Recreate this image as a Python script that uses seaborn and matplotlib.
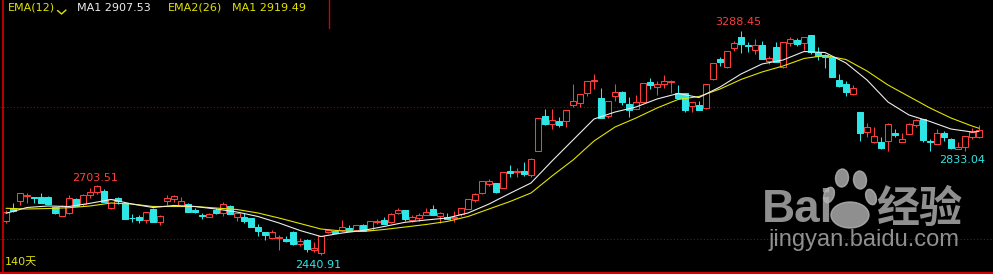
import numpy as np
import pandas as pd
import matplotlib
matplotlib.use("Agg")
import matplotlib.pyplot as plt
import seaborn as sns
from matplotlib.patches import Ellipse

# ---------------- data ----------------
days = list(range(140))
opens = [2569, 2619, 2645, 2664, 2658, 2660, 2658, 2621, 2588, 2597,
         2650, 2633, 2665, 2678, 2682, 2616, 2654, 2636, 2580, 2584,
         2572, 2614, 2564, 2645, 2650, 2626, 2631, 2610, 2589, 2584,
         2610, 2600, 2625, 2584, 2584, 2578, 2544, 2526, 2505, 2505,
         2499, 2528, 2481, 2496, 2458, 2446, 2525, 2530, 2534, 2542,
         2534, 2554, 2534, 2565, 2572, 2565, 2597, 2610, 2572, 2578,
         2591, 2614, 2587, 2584, 2581, 2595, 2612, 2648, 2673, 2708,
         2711, 2694, 2758, 2754, 2759, 2742, 2834, 2966, 2934, 2948,
         2948, 3009, 3014, 3054, 3097, 3034, 2967, 3043, 3058, 3012,
         2994, 3020, 3096, 3077, 3087, 3095, 3052, 3052, 3005, 3008,
         2995, 3105, 3181, 3153, 3225, 3264, 3234, 3216, 3235, 3175,
         3227, 3153, 3241, 3254, 3241, 3273, 3207, 3197, 3188, 3102,
         3087, 3048, 2981, 2906, 2868, 2868, 2872, 2902, 2868, 2897,
         2930, 2953, 2873, 2860, 2900, 2879, 2841, 2847, 2885, 2888]
highs = [2608, 2635, 2674, 2674, 2660, 2673, 2663, 2622, 2627, 2667,
         2657, 2669, 2692, 2703.51, 2689, 2653, 2658, 2638, 2595, 2591,
         2604, 2619, 2591, 2667, 2665, 2658, 2635, 2616, 2600, 2597,
         2616, 2641, 2629, 2598, 2598, 2580, 2556, 2528, 2534, 2515,
         2512, 2531, 2503, 2500, 2487, 2513, 2538, 2532, 2572, 2553,
         2554, 2557, 2569, 2575, 2584, 2600, 2616, 2611, 2591, 2597,
         2616, 2629, 2603, 2597, 2606, 2617, 2652, 2675, 2721, 2727,
         2712, 2754, 2780, 2770, 2790, 2805, 2958, 2992, 2992, 2964,
         2990, 3087, 3051, 3100, 3125, 3072, 3024, 3087, 3061, 3039,
         3045, 3092, 3110, 3098, 3121, 3102, 3083, 3053, 3019, 3023,
         3087, 3167, 3190, 3213, 3250, 3288.45, 3247, 3258, 3250, 3194,
         3247, 3246, 3266, 3262, 3265, 3274, 3226, 3201, 3189, 3125,
         3100, 3083, 2982, 2938, 2923, 2885, 2938, 2916, 2903, 2941,
         2953, 2955, 2879, 2916, 2909, 2881, 2868, 2892, 2919, 2932]
lows = [2562, 2604, 2629, 2635, 2635, 2636, 2631, 2595, 2587, 2595,
        2625, 2625, 2654, 2670, 2640, 2615, 2631, 2574, 2565, 2562,
        2559, 2564, 2553, 2629, 2641, 2625, 2601, 2597, 2575, 2583,
        2593, 2587, 2593, 2569, 2559, 2545, 2512, 2496, 2499, 2458,
        2487, 2479, 2475, 2452, 2452, 2440.91, 2522, 2523, 2532, 2529,
        2532, 2529, 2533, 2557, 2556, 2559, 2596, 2569, 2565, 2569,
        2590, 2590, 2559, 2574, 2565, 2588, 2612, 2641, 2672, 2702,
        2675, 2693, 2734, 2736, 2739, 2734, 2833, 2932, 2917, 2925,
        2925, 3001, 3001, 3043, 3068, 2958, 2957, 3024, 3008, 2963,
        2992, 3019, 3068, 3045, 3072, 3052, 3034, 2982, 2982, 2987,
        2994, 3103, 3156, 3147, 3212, 3203, 3207, 3200, 3181, 3162,
        3169, 3147, 3232, 3232, 3216, 3200, 3178, 3149, 3114, 3077,
        3043, 3047, 2872, 2885, 2862, 2840, 2834, 2885, 2867, 2896,
        2923, 2868, 2834, 2859, 2872, 2841, 2840, 2833.04, 2879, 2881]
closes = [2601, 2606, 2673, 2667, 2654, 2638, 2633, 2597, 2626, 2654,
          2626, 2667, 2678, 2699, 2641, 2651, 2644, 2577, 2578, 2572,
          2603, 2565, 2589, 2656, 2663, 2645, 2603, 2603, 2587, 2595,
          2597, 2633, 2594, 2597, 2570, 2547, 2531, 2514, 2526, 2507,
          2492, 2481, 2492, 2462, 2467, 2512, 2534, 2524, 2544, 2530,
          2553, 2530, 2568, 2567, 2557, 2595, 2610, 2576, 2584, 2591,
          2603, 2591, 2597, 2575, 2583, 2616, 2650, 2670, 2720, 2720,
          2679, 2753, 2749, 2757, 2746, 2803, 2957, 2936, 2951, 2932,
          2989, 3022, 3049, 3098, 3102, 2960, 3023, 3057, 3020, 2989,
          3018, 3091, 3083, 3089, 3098, 3097, 3035, 2989, 3018, 2989,
          3086, 3165, 3169, 3212, 3241, 3238, 3231, 3235, 3182, 3187,
          3169, 3245, 3256, 3239, 3264, 3207, 3194, 3190, 3115, 3080,
          3056, 3071, 2900, 2923, 2890, 2846, 2934, 2894, 2879, 2935,
          2951, 2875, 2869, 2900, 2888, 2844, 2850, 2890, 2904, 2913]

# average lines as drawn in the reference, read every third day
line_days = list(range(0, 139, 3)) + [139]
ema12_vals = [2597.3, 2619.3, 2625.0, 2623.1, 2635.2, 2649.6, 2632.5, 2619.3,
              2626.9, 2623.1, 2613.6, 2602.2, 2585.2, 2560.6, 2532.2, 2509.4,
              2522.7, 2532.2, 2547.3, 2563.2, 2571.9, 2579.5, 2598.5, 2632.5,
              2673.1, 2712.1, 2795.4, 2875.0, 2954.5, 2981.0, 3000.0, 3030.3,
              3051.1, 3036.0, 3075.7, 3125.0, 3162.9, 3178.0, 3210.2, 3206.4,
              3166.7, 3102.3, 3018.9, 2969.7, 2945.1, 2916.6, 2905.3, 2907.53]
ema26_vals = [2616.3, 2613.6, 2615.5, 2618.5, 2625.0, 2636.3, 2632.5, 2623.1,
              2623.1, 2623.1, 2617.4, 2611.7, 2598.5, 2579.5, 2558.7, 2537.8,
              2530.3, 2528.4, 2536.0, 2545.4, 2554.9, 2566.3, 2585.2, 2613.6,
              2642.0, 2674.2, 2738.6, 2799.2, 2871.2, 2924.2, 2958.3, 2996.2,
              3028.4, 3039.8, 3068.2, 3104.2, 3132.6, 3155.3, 3183.7, 3195.1,
              3179.9, 3136.4, 3083.3, 3039.8, 2996.2, 2958.3, 2928.0, 2919.49]

header_labels = ["EMA(12)", "MA1 2907.53", "EMA2(26)", "MA1 2919.49"]
grid_levels = [3000, 2500]
period_label = "140天"
local_high_day = 13
local_low_day = 137

# ---------------- style ----------------
RED = "#ff3c3c"
CYAN = "#2fe6e6"
WHITE = "#ececec"
YELLOW = "#e2e200"
BORDER = "#d40000"
GRID = "#a00000"

sns.set_theme(style="dark", rc={"axes.facecolor": "black", "figure.facecolor": "black"})
plt.rcParams["font.family"] = ["DejaVu Sans", "Noto Sans CJK SC"]

W, H = 993, 274
fig = plt.figure(figsize=(W / 100, H / 100), dpi=100)
fig.patch.set_facecolor("black")
ax = fig.add_axes([0, 0, 1, 1])
ax.set_facecolor("black")

df = pd.DataFrame({"day": days, "open": opens, "high": highs, "low": lows, "close": closes})
lines = pd.DataFrame({"day": line_days, "ema12": ema12_vals, "ema26": ema26_vals})

up = df["close"] >= df["open"]
dn = ~up
lw = 0.75
bw = 0.74

# wicks
ax.vlines(df.loc[up, "day"], df.loc[up, "low"], df.loc[up, "high"], color=RED, lw=lw, zorder=2)
ax.vlines(df.loc[dn, "day"], df.loc[dn, "low"], df.loc[dn, "high"], color=CYAN, lw=lw, zorder=2)
# bodies
h_up = (df.loc[up, "close"] - df.loc[up, "open"]).clip(lower=2.5)
ax.bar(df.loc[up, "day"], h_up, bottom=df.loc[up, "open"], width=bw,
       facecolor="black", edgecolor=RED, linewidth=lw, zorder=3)
h_dn = (df.loc[dn, "open"] - df.loc[dn, "close"]).clip(lower=2.5)
ax.bar(df.loc[dn, "day"], h_dn, bottom=df.loc[dn, "close"], width=bw,
       facecolor=CYAN, edgecolor=CYAN, linewidth=lw, zorder=3)

# average lines
sns.lineplot(data=lines, x="day", y="ema26", ax=ax, color=YELLOW, linewidth=0.8,
             estimator=None, zorder=4)
sns.lineplot(data=lines, x="day", y="ema12", ax=ax, color=WHITE, linewidth=0.8,
             estimator=None, zorder=5)

for g in grid_levels:
    ax.axhline(g, color=GRID, lw=0.8, ls=(0, (1, 2)), zorder=1)

# extreme annotations
imax = int(np.argmax(highs))
imin = int(np.argmin(lows))
ann = dict(textcoords="offset pixels", ha="center", va="center", fontsize=8, zorder=6)
ax.annotate(f"{highs[imax]:.2f}", xy=(imax, highs[imax]), xytext=(-3, 9), color=RED, **ann)
ax.annotate(f"{highs[local_high_day]:.2f}", xy=(local_high_day, highs[local_high_day]),
            xytext=(-2, 7), color=RED, **ann)
ax.annotate(f"{lows[imin]:.2f}", xy=(imin, lows[imin]), xytext=(-3, -10), color=CYAN, **ann)
ax.annotate(f"{lows[local_low_day]:.2f}", xy=(local_low_day, lows[local_low_day]),
            xytext=(-3, -9), color=CYAN, **ann)

ax.set_xlim(-6 / 7, 987 / 7)
ax.set_ylim(3000 - 167 * 3.788, 3000 + 107 * 3.788)
ax.set_xlabel("")
ax.set_ylabel("")
ax.axis("off")

# ---------------- overlay (pixel coordinates) ----------------
ov = fig.add_axes([0, 0, 1, 1])
ov.set_xlim(0, W)
ov.set_ylim(H, 0)
ov.axis("off")
ov.patch.set_alpha(0)

# watermark
WM = "#b4b4b4"
ov.text(762, 210, "Bai", color=WM, fontsize=33, fontweight="bold",
        family=["Liberation Sans", "DejaVu Sans"], ha="left", va="center", alpha=0.8, zorder=1)
for (cx, cy, ew, eh, ang) in [(829, 195, 10, 16, 20), (842, 178, 13, 18, 5),
                              (860, 180, 13, 18, -5), (871, 197, 10, 16, -20)]:
    ov.add_patch(Ellipse((cx, cy), ew, eh, angle=ang, color=WM, alpha=0.8, zorder=1))
ov.add_patch(Ellipse((850, 215), 38, 26, color=WM, alpha=0.8, zorder=1))
ov.text(919, 209, "经验", color=WM, fontsize=31, fontweight="bold",
        family=["Noto Sans CJK SC", "DejaVu Sans"], ha="center", va="center", alpha=0.8, zorder=1)
ov.text(864, 240, "jingyan.baidu.com", color=WM, fontsize=17,
        family=["Liberation Sans", "DejaVu Sans"], ha="center", va="center", alpha=0.8, zorder=1)

# borders
ov.plot([3, 3], [0, H], color=BORDER, lw=1.2, zorder=7)
ov.plot([0, W], [272.5, 272.5], color=BORDER, lw=1.5, zorder=7)
ov.plot([328.5, 328.5], [0, 28], color=BORDER, lw=1.0, zorder=7)

# header
hdr = dict(fontsize=8, va="center", ha="left", zorder=8)
ov.text(8, 8, header_labels[0], color=YELLOW, **hdr)
ov.plot([57.5, 61.5, 66], [10.5, 14, 10], color=YELLOW, lw=1.0, zorder=8)
ov.text(77, 8, header_labels[1], color=WHITE, **hdr)
ov.text(168, 8, header_labels[2], color=YELLOW, **hdr)
ov.text(232, 8, header_labels[3], color=YELLOW, **hdr)

ov.text(5, 262, period_label, color=YELLOW, fontsize=8, va="center", ha="left",
        family=["DejaVu Sans", "Noto Sans CJK SC"], zorder=8)

fig.savefig("out.png", dpi=100, facecolor="black")
